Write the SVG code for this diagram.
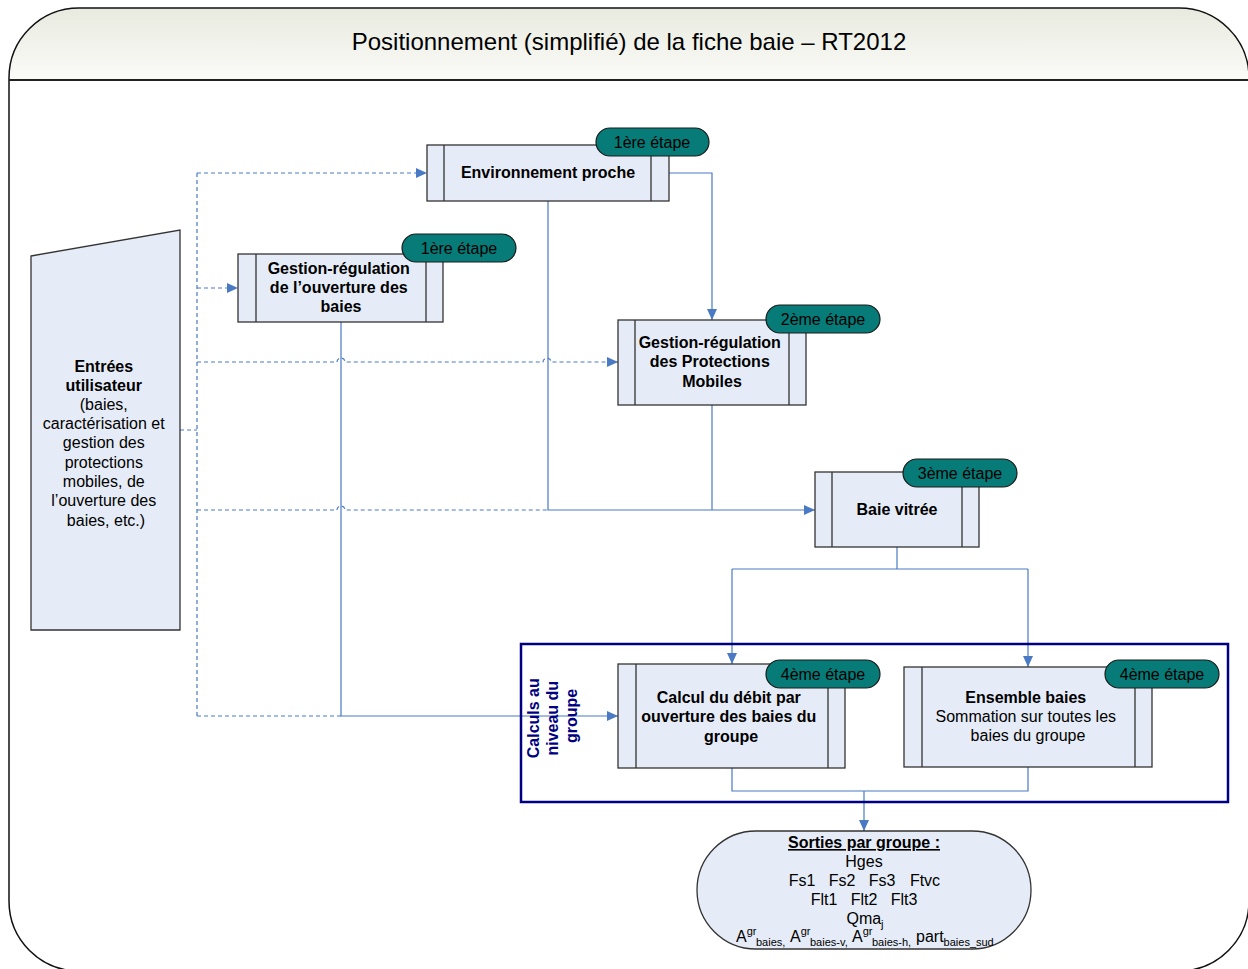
<svg xmlns="http://www.w3.org/2000/svg" width="1248" height="969" viewBox="0 0 1248 969">
<defs>
<linearGradient id="hdr" x1="0" y1="0" x2="0" y2="1">
<stop offset="0" stop-color="#e8eadf"/>
<stop offset="1" stop-color="#fbfbf8"/>
</linearGradient>
<marker id="arr" markerWidth="11" markerHeight="10" refX="11" refY="5" orient="auto" markerUnits="userSpaceOnUse">
<path d="M0,0 L11,5 L0,10 Z" fill="#4a7ac4"/>
</marker>
<style>
text{font-family:"Liberation Sans",Arial,sans-serif;font-size:16px;fill:#000}
.b{font-weight:bold}
.c{text-anchor:middle}
.box{fill:#e6ecf7;stroke:#333;stroke-width:1.3}
.in{stroke:#333;stroke-width:1.3;fill:none}
.badge{fill:#077b78;stroke:#1a1a1a;stroke-width:1.2}
.sol{fill:none;stroke:#4a7ac4;stroke-width:1.2}
.dsh{fill:none;stroke:#4a7ac4;stroke-width:1.2;stroke-dasharray:4 3}
</style>
</defs>

<g id="frame">
<path d="M9,80 V78 A70,70 0 0 1 79,8 H1179 A70,70 0 0 1 1249,78 V80 Z" fill="url(#hdr)"/>
<rect x="9" y="8" width="1240" height="963" rx="70" ry="70" fill="none" stroke="#111" stroke-width="1.5"/>
<line x1="9" y1="80" x2="1249" y2="80" stroke="#222" stroke-width="2"/>
<text x="629" y="50" class="c" style="font-size:24px">Positionnement (simplifié) de la fiche baie – RT2012</text>
</g>

<g id="connectors">
<path class="dsh" d="M180,430 H197"/>
<path class="dsh" d="M197,173 V716"/>
<path class="dsh" d="M197,173 H427" marker-end="url(#arr)"/>
<path class="dsh" d="M197,288 H238" marker-end="url(#arr)"/>
<path class="dsh" d="M197,362 H337 A4,4 0 0 1 345,362 H543 A4,4 0 0 1 551,362 H618" marker-end="url(#arr)"/>
<path class="dsh" d="M197,510 H337 A4,4 0 0 1 345,510 H548"/>
<path class="dsh" d="M197,716 H341"/>
<path class="sol" d="M669,173 H712 V320" marker-end="url(#arr)"/>
<path class="sol" d="M548,201 V510 H815" marker-end="url(#arr)"/>
<path class="sol" d="M712,405 V510"/>
<path class="sol" d="M341,322 V716 H618" marker-end="url(#arr)"/>
<path class="sol" d="M897,547 V569"/>
<path class="sol" d="M732,569 H1028"/>
<path class="sol" d="M732,569 V664" marker-end="url(#arr)"/>
<path class="sol" d="M1028,569 V667" marker-end="url(#arr)"/>
<path class="sol" d="M732,768 V791 H1028 V767"/>
<path class="sol" d="M864,791 V831" marker-end="url(#arr)"/>
</g>

<g id="entrees">
<path class="box" d="M31,256 L180,230 V630 H31 Z"/>
<text class="c">
<tspan x="106" y="372" class="b">Entrées</tspan>
<tspan x="106" y="391" class="b">utilisateur</tspan>
<tspan x="106" y="410">(baies,</tspan>
<tspan x="106" y="429">caractérisation et</tspan>
<tspan x="106" y="448">gestion des</tspan>
<tspan x="106" y="468">protections</tspan>
<tspan x="106" y="487">mobiles, de</tspan>
<tspan x="106" y="506">l’ouverture des</tspan>
<tspan x="106" y="526">baies, etc.)</tspan>
</text>
</g>

<g id="env-proche">
<rect class="box" x="427" y="145" width="242" height="56"/>
<path class="in" d="M444,145 V201 M651,145 V201"/>
<text x="548" y="178" class="b c">Environnement proche</text>
<rect class="badge" x="596" y="128" width="113" height="28" rx="14"/>
<text x="652" y="148" class="c">1ère étape</text>
</g>

<g id="gestion-ouverture">
<rect class="box" x="238" y="254" width="205" height="68"/>
<path class="in" d="M256,254 V322 M426,254 V322"/>
<text class="b c">
<tspan x="341" y="274">Gestion-régulation</tspan>
<tspan x="341" y="293">de l’ouverture des</tspan>
<tspan x="341" y="312">baies</tspan>
</text>
<rect class="badge" x="402" y="234" width="114" height="28" rx="14"/>
<text x="459" y="254" class="c">1ère étape</text>
</g>

<g id="gestion-pm">
<rect class="box" x="618" y="320" width="188" height="85"/>
<path class="in" d="M635,320 V405 M789,320 V405"/>
<text class="b c">
<tspan x="712" y="348">Gestion-régulation</tspan>
<tspan x="712" y="367">des Protections</tspan>
<tspan x="712" y="387">Mobiles</tspan>
</text>
<rect class="badge" x="766" y="305" width="114" height="28" rx="14"/>
<text x="823" y="325" class="c">2ème étape</text>
</g>

<g id="baie-vitree">
<rect class="box" x="815" y="472" width="164" height="75"/>
<path class="in" d="M832,472 V547 M962,472 V547"/>
<text x="897" y="515" class="b c">Baie vitrée</text>
<rect class="badge" x="903" y="459" width="114" height="28" rx="14"/>
<text x="960" y="479" class="c">3ème étape</text>
</g>

<g id="groupe">
<rect x="521" y="644" width="707" height="158" fill="none" stroke="#000080" stroke-width="2.5"/>
<text transform="rotate(-90)" class="b c" style="fill:#000080">
<tspan x="-716" y="539">Calculs au</tspan>
<tspan x="-716" y="558">niveau du</tspan>
<tspan x="-716" y="577">groupe</tspan>
</text>
</g>

<g id="calcul-debit">
<rect class="box" x="618" y="664" width="227" height="104"/>
<path class="in" d="M636,664 V768 M828,664 V768"/>
<text class="b c">
<tspan x="731" y="703">Calcul du débit par</tspan>
<tspan x="731" y="722">ouverture des baies du</tspan>
<tspan x="731" y="742">groupe</tspan>
</text>
<rect class="badge" x="766" y="660" width="114" height="28" rx="14"/>
<text x="823" y="680" class="c">4ème étape</text>
</g>

<g id="ensemble-baies">
<rect class="box" x="904" y="667" width="248" height="100"/>
<path class="in" d="M922,667 V767 M1135,667 V767"/>
<text class="c">
<tspan x="1028" y="703" class="b">Ensemble baies</tspan>
<tspan x="1028" y="722">Sommation sur toutes les</tspan>
<tspan x="1028" y="741">baies du groupe</tspan>
</text>
<rect class="badge" x="1105" y="660" width="114" height="28" rx="14"/>
<text x="1162" y="680" class="c">4ème étape</text>
</g>

<g id="sorties">
<rect class="box" x="697" y="831" width="334" height="118" rx="59" ry="59"/>
<text x="864" y="848" class="b c" text-decoration="underline">Sorties par groupe :</text>
<text x="864" y="867" class="c">Hges</text>
<text y="886" class="c"><tspan x="802">Fs1</tspan><tspan x="842">Fs2</tspan><tspan x="882">Fs3</tspan><tspan x="925">Ftvc</tspan></text>
<text y="905" class="c"><tspan x="824">Flt1</tspan><tspan x="864">Flt2</tspan><tspan x="904">Flt3</tspan></text>
<text y="924" x="865" class="c">Qma<tspan style="font-size:11px" dy="4">j</tspan></text>
<text y="942" style="font-size:16px"><tspan x="736">A</tspan><tspan style="font-size:11px" dy="-7">gr</tspan><tspan x="756" style="font-size:11px" dy="11">baies,</tspan><tspan x="790" dy="-4">A</tspan><tspan style="font-size:11px" dy="-7">gr</tspan><tspan x="810" style="font-size:11px" dy="11">baies-v,</tspan><tspan x="852" dy="-4">A</tspan><tspan style="font-size:11px" dy="-7">gr</tspan><tspan x="872" style="font-size:11px" dy="11">baies-h,</tspan><tspan x="916" dy="-4">part</tspan><tspan style="font-size:11px" dy="4">baies_sud</tspan></text>
</g>
</svg>
